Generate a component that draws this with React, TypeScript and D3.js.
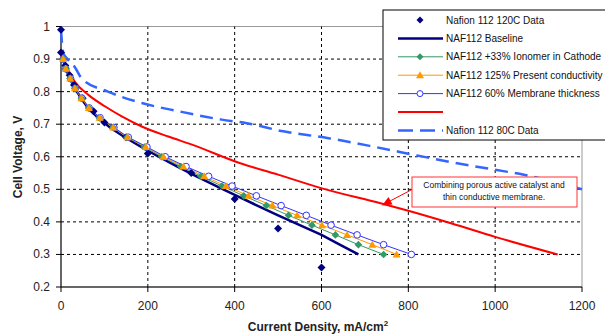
import React from "react";
import * as d3 from "d3";

// cell voltages of the model sweeps (V)
const sweepVolts = [0.9, 0.87, 0.84, 0.81, 0.78, 0.75, 0.72, 0.69, 0.66, 0.63, 0.6, 0.57, 0.54, 0.51, 0.48, 0.45, 0.42, 0.39, 0.36, 0.33, 0.3];

// current density (mA/cm2) for each sweep voltage
const baselineCurrent = [5, 11, 21, 32, 46, 62, 85, 113, 147, 185, 225, 268, 312, 358, 405, 452, 500, 550, 600, 642, 685];
const ionomerCurrent = [5, 11, 21, 32, 47, 64, 88, 120, 152, 192, 232, 276, 322, 371, 421, 473, 524, 578, 632, 685, 743];
const conductCurrent = [5, 11, 21, 32, 47, 64, 89, 120, 153, 195, 236, 282, 330, 380, 432, 487, 544, 601, 659, 717, 773];
const thinCurrent = [5, 11, 22, 33, 48, 65, 90, 122, 155, 198, 240, 288, 340, 394, 450, 507, 565, 622, 682, 743, 807];

// Nafion 112 120C measured points
const data120Current = [0, 0, 10, 20, 30, 50, 75, 100, 150, 200, 300, 400, 500, 600];
const data120Volts = [0.99, 0.92, 0.88, 0.85, 0.82, 0.78, 0.74, 0.705, 0.66, 0.61, 0.55, 0.47, 0.38, 0.26];

// porous catalyst + thin membrane projection
const comboCurrent = [0, 9, 32, 63, 101, 140, 186, 247, 300, 413, 500, 601, 736, 800, 900, 1000, 1144];
const comboVolts = [0.91, 0.886, 0.83, 0.79, 0.755, 0.724, 0.693, 0.662, 0.638, 0.58, 0.545, 0.503, 0.457, 0.434, 0.395, 0.354, 0.3];

// Nafion 112 80C data
const data80Current = [0, 5, 15, 32, 48, 108, 186, 270, 370, 428, 512, 616, 720, 820, 900, 1000, 1066, 1200];
const data80Volts = [0.99, 0.92, 0.9, 0.875, 0.84, 0.8, 0.765, 0.74, 0.714, 0.703, 0.678, 0.657, 0.631, 0.604, 0.583, 0.56, 0.545, 0.5];

const xTicks = [0, 200, 400, 600, 800, 1000, 1200];
const yTicks = [0.2, 0.3, 0.4, 0.5, 0.6, 0.7, 0.8, 0.9, 1];

const legendNames = [
  "Nafion 112 120C Data",
  "NAF112 Baseline",
  "NAF112 +33% Ionomer in Cathode",
  "NAF112 125% Present conductivity",
  "NAF112 60% Membrane thickness",
  "",
  "Nafion 112 80C Data",
];

const FONT = "Arial, 'Liberation Sans', sans-serif";
const NAVY = "#000080";
const GREEN = "#339966";
const ORANGE = "#FF9900";
const BLUE = "#3333FF";
const RED = "#FF0000";
const DASH = "#3366FF";

type Pt = [number, number];

const zip = (xs: number[], ys: number[]): Pt[] => xs.map((v, i) => [v, ys[i]]);

function Diamond({ x, y, r, fill }: { x: number; y: number; r: number; fill: string }) {
  return <path d={`M${x},${y - r}L${x + r},${y}L${x},${y + r}L${x - r},${y}Z`} fill={fill} />;
}

function Triangle({ x, y, r, fill }: { x: number; y: number; r: number; fill: string }) {
  return <path d={`M${x},${y - r}L${x + r},${y + r * 0.75}L${x - r},${y + r * 0.75}Z`} fill={fill} />;
}

export default function App() {
  const x = d3.scaleLinear().domain([0, 1200]).range([61, 582]);
  const y = d3.scaleLinear().domain([0.2, 1]).range([287, 26.5]);

  const line = d3
    .line<Pt>()
    .x((d) => x(d[0]))
    .y((d) => y(d[1]));

  const smooth = d3
    .line<Pt>()
    .x((d) => x(d[0]))
    .y((d) => y(d[1]))
    .curve(d3.curveMonotoneX);

  const baseline = zip(baselineCurrent, sweepVolts);
  const ionomer = zip(ionomerCurrent, sweepVolts);
  const conduct = zip(conductCurrent, sweepVolts);
  const thin = zip(thinCurrent, sweepVolts);
  const data120 = zip(data120Current, data120Volts);
  const combo = zip(comboCurrent, comboVolts);
  const data80 = zip(data80Current, data80Volts);

  const [x0, x1] = x.range();
  const [y0, y1] = y.range();

  // legend layout
  const lgX = 383;
  const lgY = 10;
  const rowY = (i: number) => 20 + i * 18.4;

  return (
    <svg
      width={605}
      height={335}
      style={{ position: "absolute", left: 0, top: 0, background: "#fff" }}
      fontFamily={FONT}
    >
      <rect x={0} y={0} width={605} height={335} fill="#fff" />

      {/* plot frame */}
      <rect x={x0} y={y1} width={x1 - x0} height={y0 - y1} fill="#fff" stroke="#999" strokeWidth={1} />

      {/* grid */}
      {xTicks.slice(1, -1).map((t) => (
        <line key={"gx" + t} x1={x(t)} x2={x(t)} y1={y0} y2={y1} stroke="#000" strokeDasharray="3,3" />
      ))}
      {yTicks.slice(1, -1).map((t) => (
        <line key={"gy" + t} x1={x0} x2={x1} y1={y(t)} y2={y(t)} stroke="#000" strokeDasharray="3,3" />
      ))}

      {/* axes */}
      <line x1={x0} x2={x0} y1={y1} y2={y0} stroke="#000" />
      <line x1={x0} x2={x1} y1={y0} y2={y0} stroke="#000" />
      {yTicks.map((t) => (
        <g key={"yt" + t}>
          <line x1={x0 - 5} x2={x0} y1={y(t)} y2={y(t)} stroke="#000" />
          <text x={50} y={y(t) + 4} textAnchor="end" fontSize={12} fill="#222">
            {d3.format("")(t)}
          </text>
        </g>
      ))}
      {xTicks.map((t) => (
        <g key={"xt" + t}>
          <line x1={x(t)} x2={x(t)} y1={y0} y2={y0 + 5} stroke="#000" />
          <text x={x(t)} y={310} textAnchor="middle" fontSize={12} fill="#222">
            {t}
          </text>
        </g>
      ))}

      <text
        transform="translate(22,157) rotate(-90)"
        textAnchor="middle"
        fontSize={12}
        fontWeight="bold"
        fill="#222"
      >
        Cell Voltage, V
      </text>
      <text x={318} y={331} textAnchor="middle" fontSize={12} fontWeight="bold" fill="#222">
        Current Density, mA/cm<tspan dy={-5} fontSize={8}>2</tspan>
      </text>

      {/* series lines */}
      <path d={smooth(data80) || ""} fill="none" stroke={DASH} strokeWidth={2.5} strokeDasharray="13,7" />
      <path d={smooth(combo) || ""} fill="none" stroke={RED} strokeWidth={2} />
      <path d={line(baseline) || ""} fill="none" stroke={NAVY} strokeWidth={2.5} />
      <path d={line(ionomer) || ""} fill="none" stroke={GREEN} strokeWidth={1} />
      <path d={line(conduct) || ""} fill="none" stroke={ORANGE} strokeWidth={1} />
      <path d={line(thin) || ""} fill="none" stroke={BLUE} strokeWidth={1} />

      {/* markers */}
      {data120.map((d, i) => (
        <Diamond key={"n" + i} x={x(d[0])} y={y(d[1])} r={4} fill={NAVY} />
      ))}
      {thin.map((d, i) => (
        <circle key={"b" + i} cx={x(d[0])} cy={y(d[1])} r={3.3} fill="#fff" stroke={BLUE} strokeWidth={1} />
      ))}
      {ionomer.map((d, i) => (
        <Diamond key={"g" + i} x={x(d[0])} y={y(d[1])} r={3.8} fill={GREEN} />
      ))}
      {conduct.map((d, i) => (
        <Triangle key={"o" + i} x={x(d[0])} y={y(d[1])} r={4} fill={ORANGE} />
      ))}

      {/* annotation */}
      <line x1={413} y1={189} x2={390} y2={201} stroke={RED} strokeWidth={1} />
      <path d="M382,205.5 L388.5,197 L392.5,204.5 Z" fill={RED} />
      <rect x={412} y={177} width={165} height={30} fill="#fff" stroke="#FF3333" strokeWidth={1} />
      <text x={494} y={188} textAnchor="middle" fontSize={8.5} fill="#111">
        Combining porous active catalyst and
      </text>
      <text x={494} y={200} textAnchor="middle" fontSize={8.5} fill="#111">
        thin conductive membrane.
      </text>

      {/* legend */}
      <rect x={lgX} y={lgY} width={240} height={130} fill="#fff" stroke="#000" strokeWidth={1} />
      {legendNames.map((name, i) => {
        const cy = rowY(i);
        const mx = 420;
        return (
          <g key={"lg" + i}>
            {i === 0 && <Diamond x={mx} y={cy} r={3.5} fill={NAVY} />}
            {i === 1 && <line x1={398} x2={443} y1={cy} y2={cy} stroke={NAVY} strokeWidth={2.5} />}
            {i === 2 && (
              <>
                <line x1={398} x2={443} y1={cy} y2={cy} stroke={GREEN} strokeWidth={1} />
                <Diamond x={mx} y={cy} r={3.5} fill={GREEN} />
              </>
            )}
            {i === 3 && (
              <>
                <line x1={398} x2={443} y1={cy} y2={cy} stroke={ORANGE} strokeWidth={1} />
                <Triangle x={mx} y={cy} r={4} fill={ORANGE} />
              </>
            )}
            {i === 4 && (
              <>
                <line x1={398} x2={443} y1={cy} y2={cy} stroke={BLUE} strokeWidth={1} />
                <circle cx={mx} cy={cy} r={3} fill="#fff" stroke={BLUE} />
              </>
            )}
            {i === 5 && <line x1={398} x2={443} y1={cy} y2={cy} stroke={RED} strokeWidth={2} />}
            {i === 6 && (
              <line x1={398} x2={443} y1={cy} y2={cy} stroke={DASH} strokeWidth={2.5} strokeDasharray="15,7" />
            )}
            <text x={446} y={cy + 3.5} fontSize={10} fill="#111">
              {name}
            </text>
          </g>
        );
      })}
    </svg>
  );
}
